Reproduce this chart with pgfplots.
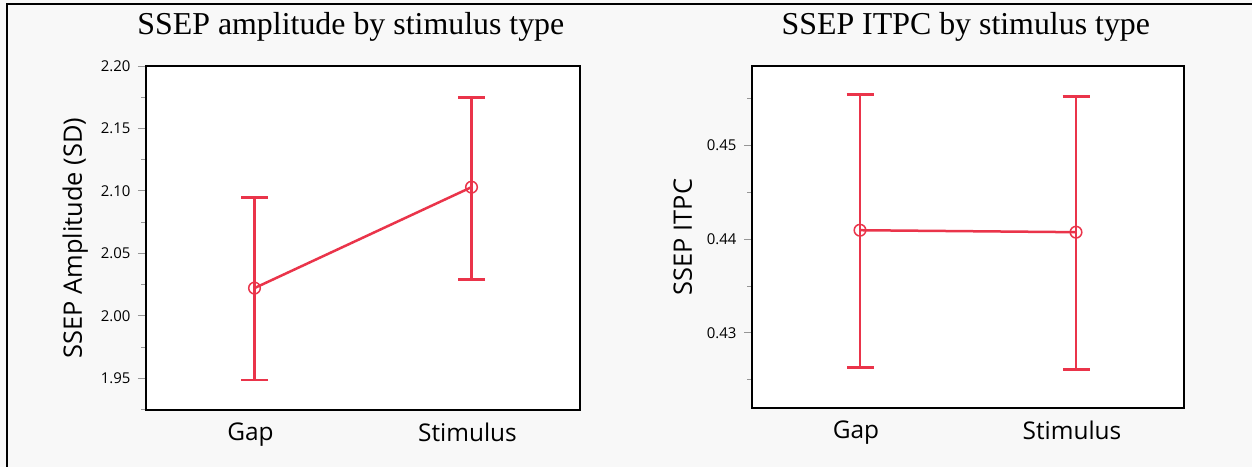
\documentclass[border=0pt]{standalone}
\usepackage{fontspec}
\setmainfont{Open Sans}
\newfontfamily\titlefont{Liberation Serif}
\usepackage{pgfplots}
\pgfplotsset{compat=1.18}
\definecolor{bgc}{RGB}{248,248,248}
\definecolor{myred}{RGB}{234,52,74}
\definecolor{tickgray}{RGB}{150,150,150}
\pgfplotsset{
  mystyle/.style={
    scale only axis,
    anchor=south west,
    axis background/.style={fill=white},
    axis line style={line width=1.2bp, black},
    xmin=-0.5, xmax=1.5,
    xtick={0,1}, xticklabels={Gap,Stimulus},
    xtick style={draw=none},
    ytick pos=left,
    tick align=outside,
    major tick length=8bp,
    minor tick length=5bp,
    ytick style={color=tickgray, line width=0.9bp},
    minor tick style={color=tickgray, line width=0.9bp},
    yticklabel style={font=\fontsize{15}{17}\selectfont, xshift=-4bp},
    xticklabel style={font=\fontsize{24.5}{28}\selectfont, yshift=-1bp, xshift=-4bp},
    title style={font=\titlefont\fontsize{32}{38}\selectfont, anchor=base},
    /pgf/number format/fixed,
    /pgf/number format/fixed zerofill,
    /pgf/number format/precision=2,
    /pgf/number format/assume math mode=true,
  },
  myplot/.style={
    color=myred, line width=2.5bp, mark=o,
    mark options={line width=1.5bp, mark size=5.8bp, solid},
    error bars/.cd, y dir=both, y explicit,
    error mark=|,
    error bar style={line width=2.5bp, myred},
    error mark options={mark size=13.5bp, line width=2.9bp, myred},
  },
}
\begin{document}
\begin{tikzpicture}
\useasboundingbox (0,0) rectangle (1252bp,-467bp);
\fill[bgc] (0,0) rectangle (1252bp,-467bp);
\draw[black, line width=2bp] (7bp,-467bp) -- (7bp,-3.5bp) -- (1252bp,-3.5bp);

\begin{axis}[mystyle,
  at={(146bp,-410bp)}, width=434bp, height=344bp,
  ymin=1.9246, ymax=2.20,
  ytick={1.95,2.00,2.05,2.10,2.15,2.20},
  minor ytick={1.925,1.975,2.025,2.075,2.125,2.175},
  ylabel={SSEP Amplitude (SD)},
  ylabel style={at={(axis description cs:-0.163,0.5)}, rotate=0, anchor=center, font=\fontsize{25.5}{29}\selectfont},
  title={SSEP amplitude by stimulus type},
  title style={at={(axis description cs:0.472,1)}, yshift=26bp},
]
\addplot[myplot] coordinates {
  (0,2.0222) += (0,0.0728) -= (0,0.0736)
  (1,2.1030) += (0,0.0720) -= (0,0.0736)
};
\end{axis}

\begin{axis}[mystyle,
  at={(752bp,-408bp)}, width=432bp, height=342bp,
  ymin=0.42195, ymax=0.45852,
  ytick={0.43,0.44,0.45},
  minor ytick={0.425,0.435,0.445,0.455},
  ylabel={SSEP ITPC},
  ylabel style={at={(axis description cs:-0.16,0.5)}, rotate=0, anchor=center, font=\fontsize{25.5}{29}\selectfont},
  title={SSEP ITPC by stimulus type},
  title style={at={(axis description cs:0.495,1)}, yshift=26bp},
]
\addplot[myplot] coordinates {
  (0,0.44096) += (0,0.01455) -= (0,0.01465)
  (1,0.44075) += (0,0.01455) -= (0,0.01465)
};
\end{axis}
\end{tikzpicture}
\end{document}
